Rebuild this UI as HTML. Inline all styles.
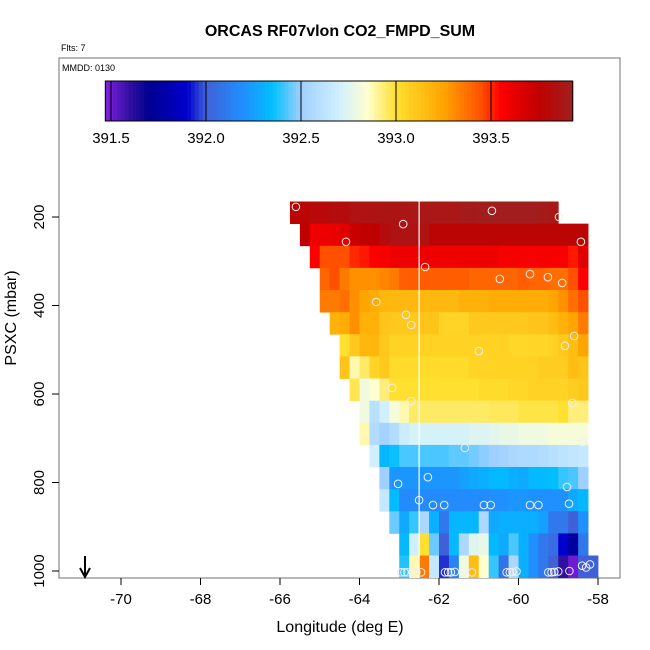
<!DOCTYPE html>
<html><head><meta charset="utf-8"><style>body{margin:0;background:#fff}svg{display:block;font-family:"Liberation Sans",sans-serif}</style></head>
<body>
<svg id="chart" width="650" height="650" viewBox="0 0 650 650" xmlns="http://www.w3.org/2000/svg">
<rect width="650" height="650" fill="#fff"/>
<text x="340" y="36" text-anchor="middle" font-size="16" font-weight="bold">ORCAS RF07vlon CO2_FMPD_SUM</text>
<text x="61" y="51" font-size="9">Flts: 7</text>
<rect x="59" y="58" width="561" height="520" fill="none" stroke="#888" stroke-width="1.2"/>
<text x="62" y="71" font-size="9">MMDD: 0130</text>
<g id="cells"></g>
<g id="markers"></g>
<g id="cbar"></g>
<g id="axes"></g>
<text x="340" y="632" text-anchor="middle" font-size="16">Longitude (deg E)</text>
<text transform="translate(16,318) rotate(-90)" text-anchor="middle" font-size="16">PSXC (mbar)</text>
<g><line x1="85" y1="556" x2="85" y2="576" stroke="#000" stroke-width="2"/><path d="M80,568 L85,577 L90,568" fill="none" stroke="#000" stroke-width="2"/></g>
</svg>
<script>
const xTicks=[-70,-68,-66,-64,-62,-60,-58];
const yTicks=[200,400,600,800,1000];
const cbarTicks=[391.5,392.0,392.5,393.0,393.5];
const rowCenters=[190,240,290,340,390,440,490,540,590,640,690,740,790,840,890,940,990];
const rowStart=[0,1,2,3,3,4,5,5,6,7,7,8,9,9,10,11,11];
const row0=[393.78,393.78,393.8,393.8,393.82,393.82,393.85,393.85,393.85,393.86,393.86,393.87,393.88,393.88,393.88,393.88,393.88,393.9,393.9,393.92,393.92,393.92,393.92,393.92,393.92,393.9,393.88];
const row1=[393.75,393.6,393.6,393.62,393.65,393.72,393.75,393.75,393.82,393.85,393.85,393.85,393.85,393.78,393.78,393.78,393.78,393.78,393.78,393.78,393.78,393.78,393.78,393.78,393.78,393.78,393.78,393.78,393.78];
const row2=[393.55,393.45,393.45,393.45,393.5,393.52,393.56,393.58,393.6,393.6,393.6,393.6,393.6,393.6,393.6,393.6,393.6,393.6,393.6,393.58,393.58,393.58,393.58,393.58,393.57,393.57,393.52,393.65];
const row3=[393.4,393.45,393.35,393.3,393.3,393.3,393.32,393.35,393.42,393.42,393.42,393.42,393.42,393.42,393.42,393.4,393.4,393.4,393.4,393.4,393.42,393.4,393.4,393.38,393.38,393.45,393.55];
const row4=[393.35,393.35,393.38,393.3,393.25,393.22,393.18,393.17,393.17,393.17,393.17,393.17,393.17,393.17,393.2,393.2,393.2,393.22,393.22,393.22,393.22,393.22,393.22,393.25,393.3,393.38,393.45];
const row5=[393.2,393.22,393.3,393.2,393.2,393.12,393.1,393.1,393.1,393.12,393.12,393.05,393.05,393.05,393.1,393.1,393.1,393.1,393.1,393.1,393.12,393.12,393.15,393.2,393.25,393.35];
const row6=[393.0,393.1,393.18,393.18,393.1,393.06,393.06,393.06,393.06,393.06,393.06,393.06,393.06,393.06,393.06,393.06,393.06,393.04,393.04,393.04,393.04,393.06,393.1,393.15,393.25];
const row7=[393.12,392.88,392.95,393.05,393.1,393.02,393.02,393.02,393.02,393.02,393.02,393.02,393.02,393.05,393.05,393.06,393.06,393.06,393.06,393.06,393.08,393.08,393.08,393.15,393.12];
const row8=[392.97,392.8,392.85,392.93,393.0,393.0,393.0,393.0,393.0,393.0,393.0,393.0,393.0,393.02,393.02,393.02,393.04,393.04,393.06,393.06,393.06,393.05,393.08,393.1];
const row9=[392.8,392.6,392.7,392.82,392.88,392.95,392.95,392.95,392.95,392.95,392.95,392.95,392.95,392.96,392.96,392.96,392.98,392.98,392.98,392.98,393.0,392.93,392.93];
const row10=[392.88,392.57,392.52,392.58,392.68,392.72,392.72,392.72,392.72,392.72,392.72,392.74,392.74,392.76,392.78,392.78,392.8,392.8,392.8,392.82,392.82,392.82,392.82];
const row11=[392.7,392.32,392.36,392.42,392.42,392.42,392.42,392.42,392.44,392.44,392.46,392.48,392.5,392.52,392.55,392.56,392.56,392.58,392.6,392.62,392.64,392.65];
const row12=[392.5,392.22,392.22,392.22,392.22,392.22,392.22,392.22,392.25,392.28,392.3,392.33,392.33,392.3,392.28,392.33,392.33,392.35,392.4,392.42,392.5];
const row13=[392.65,392.34,392.18,392.18,392.18,392.18,392.18,392.18,392.18,392.18,392.18,392.2,392.2,392.22,392.22,392.2,392.2,392.2,392.2,392.28,392.32];
const row14=[392.45,392.28,392.4,392.55,392.3,392.1,392.32,392.32,392.32,392.55,392.28,392.3,392.3,392.3,392.3,392.25,392.1,392.1,392.0,392.2];
const row15=[392.33,392.7,393.0,392.45,392.0,392.33,392.55,392.75,392.78,392.33,392.28,392.42,392.3,392.2,392.1,392.05,391.9,391.75,392.1];
const row16=[392.38,392.88,393.35,392.65,391.95,392.15,392.8,393.15,392.85,392.4,392.08,392.55,392.3,392.2,392.1,392.0,391.6,391.5,392.0,392.0];
const rows=[row0,row1,row2,row3,row4,row5,row6,row7,row8,row9,row10,row11,row12,row13,row14,row15,row16];
const markerLon=[-65.6,-62.9,-60.67,-58.98,-64.34,-58.43,-62.35,-60.47,-59.71,-59.26,-58.9,-63.58,-62.83,-62.7,-61.0,-58.6,-58.83,-63.18,-62.7,-58.65,-61.35,-58.38,-62.28,-63.03,-58.78,-62.5,-62.15,-61.87,-60.87,-60.7,-59.71,-59.5,-58.73,-62.95,-62.87,-62.8,-62.67,-62.57,-62.45,-61.85,-61.77,-61.7,-61.6,-61.4,-61.17,-60.3,-60.22,-60.15,-60.05,-59.25,-59.17,-59.1,-59.0,-58.72,-58.3,-58.4,-58.2];
const markerP=[177,216,186,200,256,256,313,340,329,336,349,392,421,444,503,469,491,586,616,620,722,708,788,803,810,840,851,851,851,851,851,851,848,1003,1003,1003,1003,1003,1003,1003,1003,1003,1002,1003,1003,1003,1003,1002,1001,1003,1003,1002,1001,1000,992,988,985];
const stops=[[391.47,[128,32,224]],[391.6,[48,16,160]],[391.7,[0,0,144]],[391.9,[0,0,205]],[392.0,[64,96,216]],[392.2,[32,144,255]],[392.35,[0,191,255]],[392.5,[160,208,255]],[392.7,[208,240,255]],[392.85,[255,255,208]],[393.0,[255,224,48]],[393.25,[255,165,0]],[393.45,[255,80,0]],[393.55,[255,0,0]],[393.75,[192,0,0]],[393.93,[160,32,32]]];
const NS='http://www.w3.org/2000/svg';
function X(lon){return 121+(lon+70)*39.75;}
function Y(p){return 217+(p-200)*0.4425;}
function CB(v){return 111+(v-391.5)*190;}
function col(v){
 if(v<=stops[0][0])return 'rgb('+stops[0][1]+')';
 for(let i=1;i<stops.length;i++){if(v<=stops[i][0]){const a=stops[i-1],b=stops[i],t=(v-a[0])/(b[0]-a[0]);return 'rgb('+a[1].map((c,k)=>Math.round(c+(b[1][k]-c)*t)).join(',')+')';}}
 return 'rgb('+stops[stops.length-1][1]+')';
}
function mk(tag,at,parent){const e=document.createElementNS(NS,tag);for(const k in at)e.setAttribute(k,at[k]);parent.appendChild(e);return e;}
const cells=document.getElementById('cells');
rows.forEach((r,ri)=>{r.forEach((v,ci)=>{const lon0=-65.75+0.25*(rowStart[ri]+ci);const x0=X(lon0),x1=X(lon0+0.25),y0=Y(rowCenters[ri]-25),y1=Y(rowCenters[ri]+25);
 const c=mk('rect',{x:x0.toFixed(2),y:y0.toFixed(2),width:(x1-x0+0.4).toFixed(2),height:(y1-y0+0.4).toFixed(2),fill:col(v)},cells);
 
 });});
const vl=mk('line',{x1:X(-62.5),x2:X(-62.5),y1:Y(165),y2:Y(1015),stroke:'#fff','stroke-width':1.2},cells);


const mg=document.getElementById('markers');
markerLon.forEach((lo,i)=>{const c=mk('circle',{cx:X(lo).toFixed(1),cy:Y(markerP[i]).toFixed(1),r:3.8,fill:'none',stroke:'#f0f0f0','stroke-width':1},mg);
 
 });
const cb=document.getElementById('cbar');
const vmin=391.47,vmax=393.93,n=120;
for(let i=0;i<n;i++){const v0=vmin+(vmax-vmin)*i/n,v1=vmin+(vmax-vmin)*(i+1)/n;const s=mk('rect',{x:CB(v0).toFixed(2),y:81,width:(CB(v1)-CB(v0)+0.5).toFixed(2),height:40,fill:col((v0+v1)/2)},cb);
 
 }
mk('rect',{x:CB(vmin),y:81,width:CB(vmax)-CB(vmin),height:40,fill:'none',stroke:'#000','stroke-width':1},cb);
cbarTicks.forEach(t=>{const l=mk('line',{x1:CB(t),x2:CB(t),y1:81,y2:121,stroke:'#000','stroke-width':1},cb);
 
 
 const tx=mk('text',{x:CB(t),y:143,'text-anchor':'middle','font-size':15},cb);tx.textContent=t.toFixed(1);
 
 });
const ax=document.getElementById('axes');
xTicks.forEach(t=>{const l=mk('line',{x1:X(t),x2:X(t),y1:578,y2:585,stroke:'#000'},ax);
 
 
 const tx=mk('text',{x:X(t),y:604,'text-anchor':'middle','font-size':15},ax);tx.textContent=t;
 
 });
yTicks.forEach(t=>{const l=mk('line',{x1:52,x2:59,y1:Y(t),y2:Y(t),stroke:'#000'},ax);
 
 
 const tx=mk('text',{transform:'translate(44,'+Y(t)+') rotate(-90)','text-anchor':'middle','font-size':15},ax);tx.textContent=t;
 
 });
</script>
</body></html>
